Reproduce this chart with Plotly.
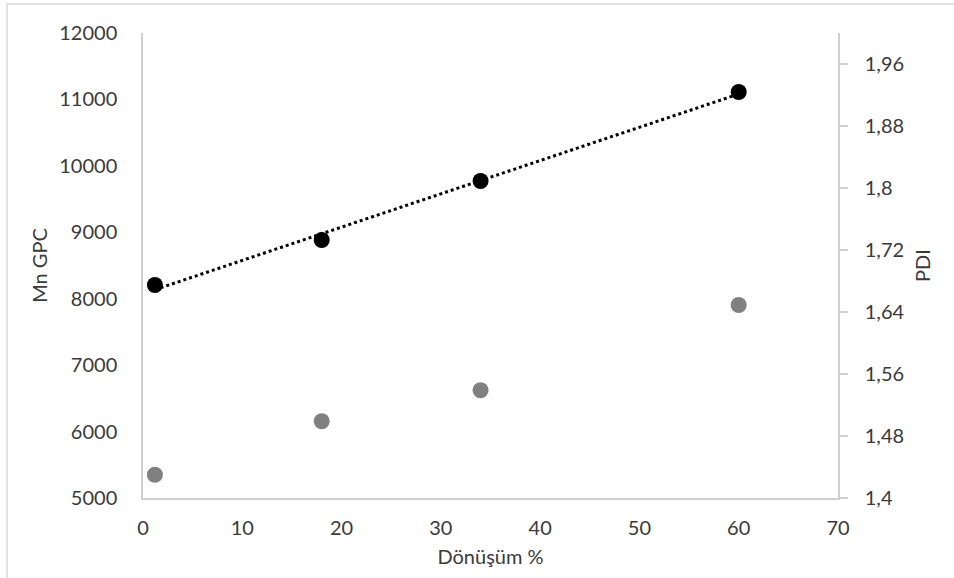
import numpy as np
import plotly.graph_objects as go

# Data
conversion = [1.2, 18, 34, 60]          # Dönüşüm %
mn_gpc = [8206, 8884, 9772, 11112]       # Mn GPC (left axis)
pdi = [1.430, 1.499, 1.539, 1.649]       # PDI (right axis)

left_ticks = [5000, 6000, 7000, 8000, 9000, 10000, 11000, 12000]
left_labels = ["5000", "6000", "7000", "8000", "9000", "10000", "11000", "12000"]
right_ticks = [1.40, 1.48, 1.56, 1.64, 1.72, 1.80, 1.88, 1.96]
right_labels = ["1,4", "1,48", "1,56", "1,64", "1,72", "1,8", "1,88", "1,96"]
x_ticks = [0, 10, 20, 30, 40, 50, 60, 70]

# Linear trendline through Mn GPC values
slope, intercept = np.polyfit(conversion, mn_gpc, 1)
tx = [min(conversion), max(conversion)]
ty = [slope * v + intercept for v in tx]

FONT = "Lato, 'Open Sans', sans-serif"
TXT = "#3a3a3a"
AX = "#cfcfcf"
FS = 20

fig = go.Figure()
fig.add_trace(go.Scatter(x=conversion, y=pdi, mode="markers", yaxis="y2",
                         marker=dict(color="#808080", size=16), showlegend=False))
fig.add_trace(go.Scatter(x=conversion, y=mn_gpc, mode="markers",
                         marker=dict(color="#000000", size=16), showlegend=False))
fig.add_trace(go.Scatter(x=tx, y=ty, mode="lines",
                         line=dict(color="#000000", width=3, dash="dot"), showlegend=False))

fig.update_layout(
    width=954, height=578,
    margin=dict(l=143, r=116, t=33, b=80),
    paper_bgcolor="white", plot_bgcolor="white",
    font=dict(family=FONT, size=FS, color=TXT),
    xaxis=dict(range=[0, 70], tickvals=x_ticks, showgrid=False, zeroline=False,
               showline=True, linecolor=AX, linewidth=1.5, ticks="",
               ticklabelstandoff=11,
               title=dict(text="Dönüşüm %", standoff=12, font=dict(size=FS, color=TXT))),
    yaxis=dict(range=[5000, 12000], tickvals=left_ticks, ticktext=left_labels,
               showgrid=False, zeroline=False,
               showline=True, linecolor=AX, linewidth=1.5, ticks="",
               ticklabelstandoff=20,
               title=dict(text="Mn GPC", standoff=6, font=dict(size=FS, color=TXT))),
    yaxis2=dict(range=[1.4, 2.0], tickvals=right_ticks, ticktext=right_labels,
                overlaying="y", side="right", showgrid=False, zeroline=False,
                showline=True, linecolor=AX, linewidth=1.5, ticks="outside",
                ticklen=8, tickcolor=AX, tickwidth=1.5, ticklabelstandoff=13,
                title=dict(text="PDI", standoff=13, font=dict(size=FS, color=TXT))),
)

# outer chart-area frame (only top and left edges visible in reference)
fig.add_shape(type="rect", xref="paper", yref="paper",
              x0=-(143 - 7) / 695, x1=1.5, y0=-0.5, y1=1 + (33 - 4) / 465,
              line=dict(color="#d9d9d9", width=1.5), fillcolor="rgba(0,0,0,0)", layer="below")

fig.write_html("out.html")
